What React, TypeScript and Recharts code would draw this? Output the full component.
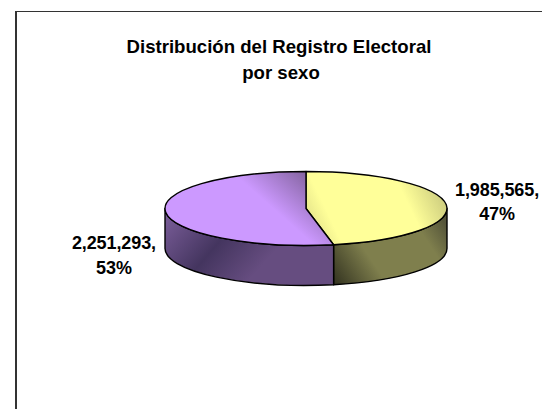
import React from 'react';
import { PieChart, Pie, Cell } from 'recharts';

const categories = ['Mujeres', 'Hombres'];
const votes = [1985565, 2251293];
const percents = ['47%', '53%'];
const voteLabels = ['1,985,565,', '2,251,293,'];
const titleLines = ['Distribución del Registro Electoral', 'por sexo'];

const chartData = categories.map((name, i) => ({ name, value: votes[i], percent: percents[i], text: voteLabels[i] }));

// flattening of the disc and height of its wall
const SQUASH = 0.262;
const DEPTH = 40;
const RAD = Math.PI / 180;

const topFills = ['url(#topYellow)', 'url(#topPurple)'];
const sideFills = ['url(#sideYellow)', 'url(#sidePurple)'];

// draws one slice as a flattened 3D wedge
const Wedge3D = (props: any) => {
    const { cx, cy, outerRadius: r, startAngle, endAngle, index } = props;
    const ry = r * SQUASH;
    const px = (a: number) => cx + r * Math.cos(a * RAD);
    const py = (a: number) => cy - ry * Math.sin(a * RAD);
    const large = Math.abs(startAngle - endAngle) > 180 ? 1 : 0;
    const top = `M${cx},${cy} L${px(startAngle)},${py(startAngle)} A${r},${ry} 0 ${large} 1 ${px(endAngle)},${py(endAngle)} Z`;

    // only the front half of the disc shows a wall
    const s = Math.min(startAngle, 0);
    const e = Math.max(endAngle, -180);
    const side = s > e
        ? `M${px(s)},${py(s)} A${r},${ry} 0 0 1 ${px(e)},${py(e)} L${px(e)},${py(e) + DEPTH} A${r},${ry} 0 0 0 ${px(s)},${py(s) + DEPTH} Z`
        : null;

    return (
        <g>
            {side && <path d={side} fill={sideFills[index]} stroke="#000" strokeWidth={1.4} strokeLinejoin="round" />}
            <path d={top} fill={topFills[index]} stroke="#000" strokeWidth={1.4} strokeLinejoin="round" />
        </g>
    );
};

const renderLabel = (props: any) => {
    const { cx, outerRadius, midAngle, index } = props;
    const right = Math.cos(midAngle * RAD) > 0;
    const x = cx + (outerRadius + 51) * Math.cos(midAngle * RAD) + (right ? 0 : -1);
    return (
        <text x={x} textAnchor="middle" fill="#000" fontFamily="Liberation Sans" fontSize={18} fontWeight="bold" letterSpacing={-0.1}>
            <tspan x={x} y={196} dy={right ? 0 : 53}>{chartData[index].text}</tspan>
            <tspan x={x} y={220} dy={right ? 0 : 54}>{chartData[index].percent}</tspan>
        </text>
    );
};

export default function App() {
    return (
        <div style={{ position: 'absolute', left: 0, top: 0, width: 542, height: 409, overflow: 'hidden', background: '#fff' }}>
            <div style={{ position: 'absolute', left: 15, top: 11, width: 527, height: 398, borderLeft: '2px solid #333', borderTop: '1.5px solid #333' }} />
            <PieChart width={542} height={409} margin={{ top: 0, right: 0, bottom: 0, left: 0 }} style={{ position: 'absolute', left: 0, top: 0 }}>
                <defs>
                    <linearGradient id="topYellow" gradientUnits="userSpaceOnUse" x1="445" y1="185" x2="320" y2="245">
                        <stop offset="0" stopColor="#c4c47a" />
                        <stop offset="0.3" stopColor="#ffff99" />
                        <stop offset="0.85" stopColor="#ffff99" />
                        <stop offset="1" stopColor="#e4e48a" />
                    </linearGradient>
                    <linearGradient id="topPurple" gradientUnits="userSpaceOnUse" x1="312" y1="172" x2="265" y2="225">
                        <stop offset="0" stopColor="#7f6099" />
                        <stop offset="0.75" stopColor="#cc99ff" />
                        <stop offset="1" stopColor="#cc99ff" />
                    </linearGradient>
                    <linearGradient id="sideYellow" gradientUnits="userSpaceOnUse" x1="335" y1="285" x2="440" y2="215">
                        <stop offset="0" stopColor="#333320" />
                        <stop offset="0.35" stopColor="#7f7f4d" />
                        <stop offset="0.8" stopColor="#7f7f4d" />
                        <stop offset="1" stopColor="#55553a" />
                    </linearGradient>
                    <linearGradient id="sidePurple" gradientUnits="userSpaceOnUse" x1="165" y1="215" x2="245" y2="285">
                        <stop offset="0" stopColor="#7a5d99" />
                        <stop offset="0.55" stopColor="#44355f" />
                        <stop offset="1" stopColor="#664d80" />
                    </linearGradient>
                </defs>
                <text textAnchor="middle" fill="#000" fontFamily="Liberation Sans" fontSize={18.6} fontWeight="bold">
                    <tspan x={279} y={53}>{titleLines[0]}</tspan>
                    <tspan x={281} y={79}>{titleLines[1]}</tspan>
                </text>
                <Pie
                    data={chartData}
                    dataKey="value"
                    nameKey="name"
                    cx={306}
                    cy={208.5}
                    outerRadius={141}
                    startAngle={90}
                    endAngle={-270}
                    shape={Wedge3D}
                    label={renderLabel}
                    labelLine={false}
                    isAnimationActive={false}
                >
                    {chartData.map((entry) => (
                        <Cell key={entry.name} />
                    ))}
                </Pie>
            </PieChart>
        </div>
    );
}
